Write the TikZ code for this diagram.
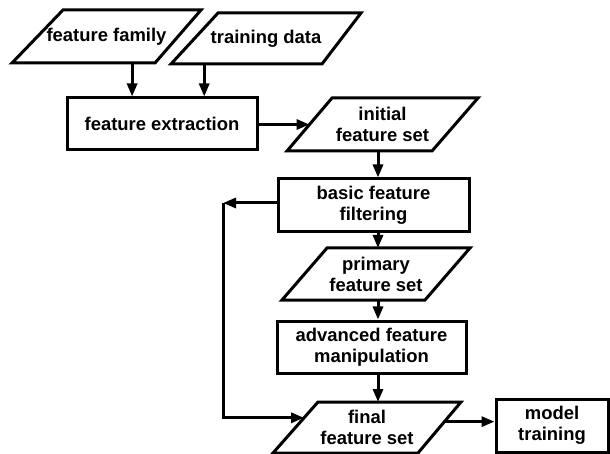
\documentclass[tikz,border=0pt]{standalone}
\usepackage{fontspec}
\setmainfont{Liberation Sans}
\usetikzlibrary{arrows.meta,calc}
\begin{document}
\begin{tikzpicture}[x=1bp,y=-1bp,line width=3bp,
  every node/.style={font=\bfseries\fontsize{18.5}{21}\selectfont, align=center, inner sep=0pt},
  procbox/.style 2 args={draw, rectangle, minimum width=#1 bp, minimum height=#2 bp},
  iolabel/.style={rectangle},
  arr/.style={-{Triangle[length=13bp,width=10bp]}}]
\useasboundingbox (0,0) rectangle (610,454);
% parallelogram corners
\coordinate (FF-tl) at (63,10);   \coordinate (FF-tr) at (201,10);
\coordinate (FF-br) at (155,63);  \coordinate (FF-bl) at (12,63);
\coordinate (TD-tl) at (218,13);  \coordinate (TD-tr) at (361,13);
\coordinate (TD-br) at (322,64);  \coordinate (TD-bl) at (171,64);
\coordinate (IFS-tl) at (332,98); \coordinate (IFS-tr) at (478,98);
\coordinate (IFS-br) at (432,151);\coordinate (IFS-bl) at (287,151);
\coordinate (PFS-tl) at (327,248);\coordinate (PFS-tr) at (470,248);
\coordinate (PFS-br) at (425,300);\coordinate (PFS-bl) at (282,300);
\coordinate (Fin-tl) at (318,402);\coordinate (Fin-tr) at (461,402);
\coordinate (Fin-br) at (418,453);\coordinate (Fin-bl) at (273,453);
% parallelograms
\draw (FF-tl) -- (FF-tr) -- (FF-br) -- (FF-bl) -- cycle;
\draw (TD-tl) -- (TD-tr) -- (TD-br) -- (TD-bl) -- cycle;
\draw (IFS-tl) -- (IFS-tr) -- (IFS-br) -- (IFS-bl) -- cycle;
\draw (PFS-tl) -- (PFS-tr) -- (PFS-br) -- (PFS-bl) -- cycle;
\draw (Fin-tl) -- (Fin-tr) -- (Fin-br) -- (Fin-bl) -- cycle;
% nodes
\node[iolabel] (FF) at (106.5,36.5) {feature family};
\node[iolabel] (TD) at (266,38.5) {training data};
\node[procbox={190}{52}] (FE) at (162,124) {feature extraction};
\node[iolabel] (IFS) at (382.5,124.5) {initial\\feature set};
\node[procbox={191}{53}] (BFF) at (373.5,205.5) {basic feature\\filtering};
\node[iolabel] (PFS) at (376,274) {primary\\feature set};
\node[procbox={189}{52}] (AFM) at (371.5,347) {advanced feature\\manipulation};
\node[iolabel] (Fin) at (367,427.5) {final\\feature set};
\node[procbox={112}{53}] (MT) at (552,425.5) {model\\training};
% helper coordinates
\coordinate (col) at (378,0);
\coordinate (FFout) at ($(FF-bl)!0.84!(FF-br)$);
\coordinate (TDout) at ($(TD-bl)!0.22!(TD-br)$);
\coordinate (IFSin) at ($(IFS-tl)!0.5!(IFS-bl)$);
\coordinate (loopA) at (223,203);
\coordinate (entry) at ($(Fin-tl)!0.31!(Fin-bl)$);
\coordinate (exitR) at ($(Fin-tr)!0.385!(Fin-br)$);
% connectors
\draw[arr] (FFout) -- (FFout |- FE.north);
\draw[arr] (TDout) -- (TDout |- FE.north);
\draw[arr] (FE.east |- IFSin) -- (IFSin);
\draw[arr] (col |- IFS-bl) -- (BFF.north -| col);
\draw[arr] (BFF.south -| col) -- (col |- PFS-tl);
\draw[arr] (col |- PFS-bl) -- (AFM.north -| col);
\draw[arr] (AFM.south -| col) -- (col |- Fin-tl);
\draw[arr] (BFF.west |- loopA) -- (loopA);
\draw[arr] (loopA) |- (entry);
\draw[arr] (exitR) -- (exitR -| MT.west);
\end{tikzpicture}
\end{document}
